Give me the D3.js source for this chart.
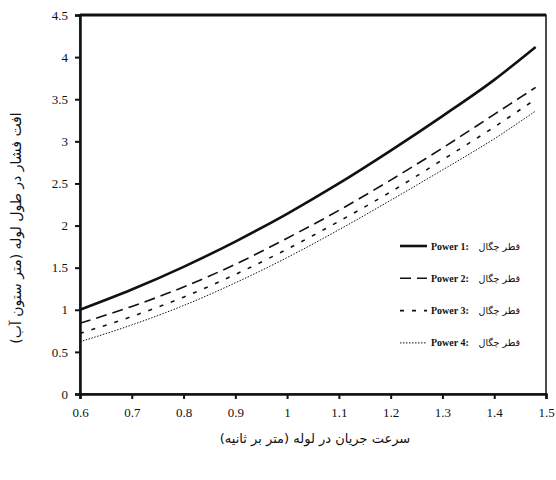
<!DOCTYPE html>
<html>
<head>
<meta charset="utf-8">
<script src="https://cdn.jsdelivr.net/npm/d3@7"></script>
<style>
  body { margin: 0; background: #fff; }
</style>
</head>
<body>
<div id="chart"></div>
<script>
// velocity (m/s) and pressure loss
var xValues = [0.6, 0.7, 0.8, 0.9, 1.0, 1.1, 1.2, 1.3, 1.4, 1.48];
var power1 = [1.0, 1.24, 1.51, 1.81, 2.14, 2.5, 2.89, 3.3, 3.73, 4.12];
var power2 = [0.84, 1.04, 1.27, 1.54, 1.85, 2.18, 2.54, 2.92, 3.32, 3.64];
var power3 = [0.72, 0.92, 1.15, 1.42, 1.72, 2.05, 2.4, 2.78, 3.17, 3.5];
var power4 = [0.62, 0.82, 1.05, 1.32, 1.62, 1.95, 2.3, 2.66, 3.03, 3.36];
var seriesNames = ["Power 1:", "Power 2:", "Power 3:", "Power 4:"];
var legendFa = "قطر چگال";
var xTicks = [0.6, 0.7, 0.8, 0.9, 1, 1.1, 1.2, 1.3, 1.4, 1.5];
var yTicks = [0, 0.5, 1, 1.5, 2, 2.5, 3, 3.5, 4, 4.5];
var xTitle = "سرعت جریان در لوله (متر بر ثانیه)";
var yTitle = "افت فشار در طول لوله (متر ستون آب)";

var svgWidth = 556, svgHeight = 480;
var margin = { top: 15, right: 10, bottom: 86, left: 80 };
var w = 546 - margin.left;
var h = 394 - margin.top;

var svg = d3.select("#chart").append("svg")
    .attr("width", svgWidth)
    .attr("height", svgHeight);

var chartGroup = svg.append("g")
    .attr("transform", `translate(${margin.left}, ${margin.top})`);

var xScale = d3.scaleLinear().domain([0.6, 1.5]).range([0, w]);
var yScale = d3.scaleLinear().domain([0, 4.5]).range([h, 0]);

// frame
chartGroup.append("rect")
    .attr("width", w).attr("height", h)
    .attr("fill", "none").attr("stroke", "#111").attr("stroke-width", 1.5);
chartGroup.append("line")
    .attr("x1", 0).attr("x2", w).attr("y1", 0).attr("y2", 0)
    .attr("stroke", "#111").attr("stroke-width", 3);

var xAxis = d3.axisBottom(xScale).tickValues(xTicks).tickSize(5).tickPadding(9)
    .tickFormat(d => d3.format("")(+d.toFixed(1)));
var yAxis = d3.axisLeft(yScale).tickValues(yTicks).tickSize(5).tickPadding(7)
    .tickFormat(d => d3.format("")(d));

var gx = chartGroup.append("g")
    .attr("transform", `translate(0, ${h})`)
    .call(xAxis);
var gy = chartGroup.append("g").call(yAxis);
[gx, gy].forEach(function (g) {
    g.attr("font-family", "Liberation Serif, serif").attr("font-size", 13);
    g.select(".domain").attr("stroke", "#111").attr("stroke-width", 2.5);
    g.selectAll(".tick line").attr("stroke", "#111").attr("stroke-width", 2);
    g.selectAll(".tick text").attr("fill", "#111");
});

// lines
var series = [
    { vals: power1, width: 2.6, dash: null },
    { vals: power2, width: 1.6, dash: "11,6" },
    { vals: power3, width: 1.6, dash: "4,8" },
    { vals: power4, width: 1, dash: "1.5,1.5" }
];

var line = d3.line()
    .x((d, i) => xScale(xValues[i]))
    .y(d => yScale(d))
    .curve(d3.curveMonotoneX);

chartGroup.selectAll(".series")
    .data(series)
    .enter()
    .append("path")
    .attr("class", "series")
    .attr("d", d => line(d.vals))
    .attr("fill", "none")
    .attr("stroke", "#111")
    .attr("stroke-width", d => d.width)
    .attr("stroke-dasharray", d => d.dash);

// legend
var legend = svg.append("g").attr("transform", "translate(400, 246)");
var rows = legend.selectAll("g")
    .data(series)
    .enter()
    .append("g")
    .attr("transform", (d, i) => `translate(0, ${i * 32.3})`);

rows.append("line")
    .attr("x1", 0).attr("x2", 27)
    .attr("stroke", "#111")
    .attr("stroke-width", d => d.width)
    .attr("stroke-dasharray", d => d.dash);

rows.append("text")
    .attr("x", 31).attr("y", 3.5)
    .attr("font-family", "Liberation Serif, serif")
    .attr("font-size", "10px")
    .attr("font-weight", "bold")
    .attr("fill", "#111")
    .text((d, i) => seriesNames[i]);

rows.append("text")
    .attr("x", 120).attr("y", 3.5)
    .attr("text-anchor", "end")
    .attr("font-family", "DejaVu Sans, sans-serif")
    .attr("font-size", "9.5px")
    .attr("fill", "#111")
    .text(legendFa);

// axis titles
svg.append("text")
    .attr("x", 315).attr("y", 443)
    .attr("text-anchor", "middle")
    .attr("font-family", "DejaVu Sans, sans-serif")
    .attr("font-size", "13px")
    .attr("fill", "#111")
    .text(xTitle);

svg.append("text")
    .attr("transform", "translate(21, 228) rotate(-90)")
    .attr("text-anchor", "middle")
    .attr("font-family", "DejaVu Sans, sans-serif")
    .attr("font-size", "14px")
    .attr("fill", "#111")
    .text(yTitle);
</script>
</body>
</html>
